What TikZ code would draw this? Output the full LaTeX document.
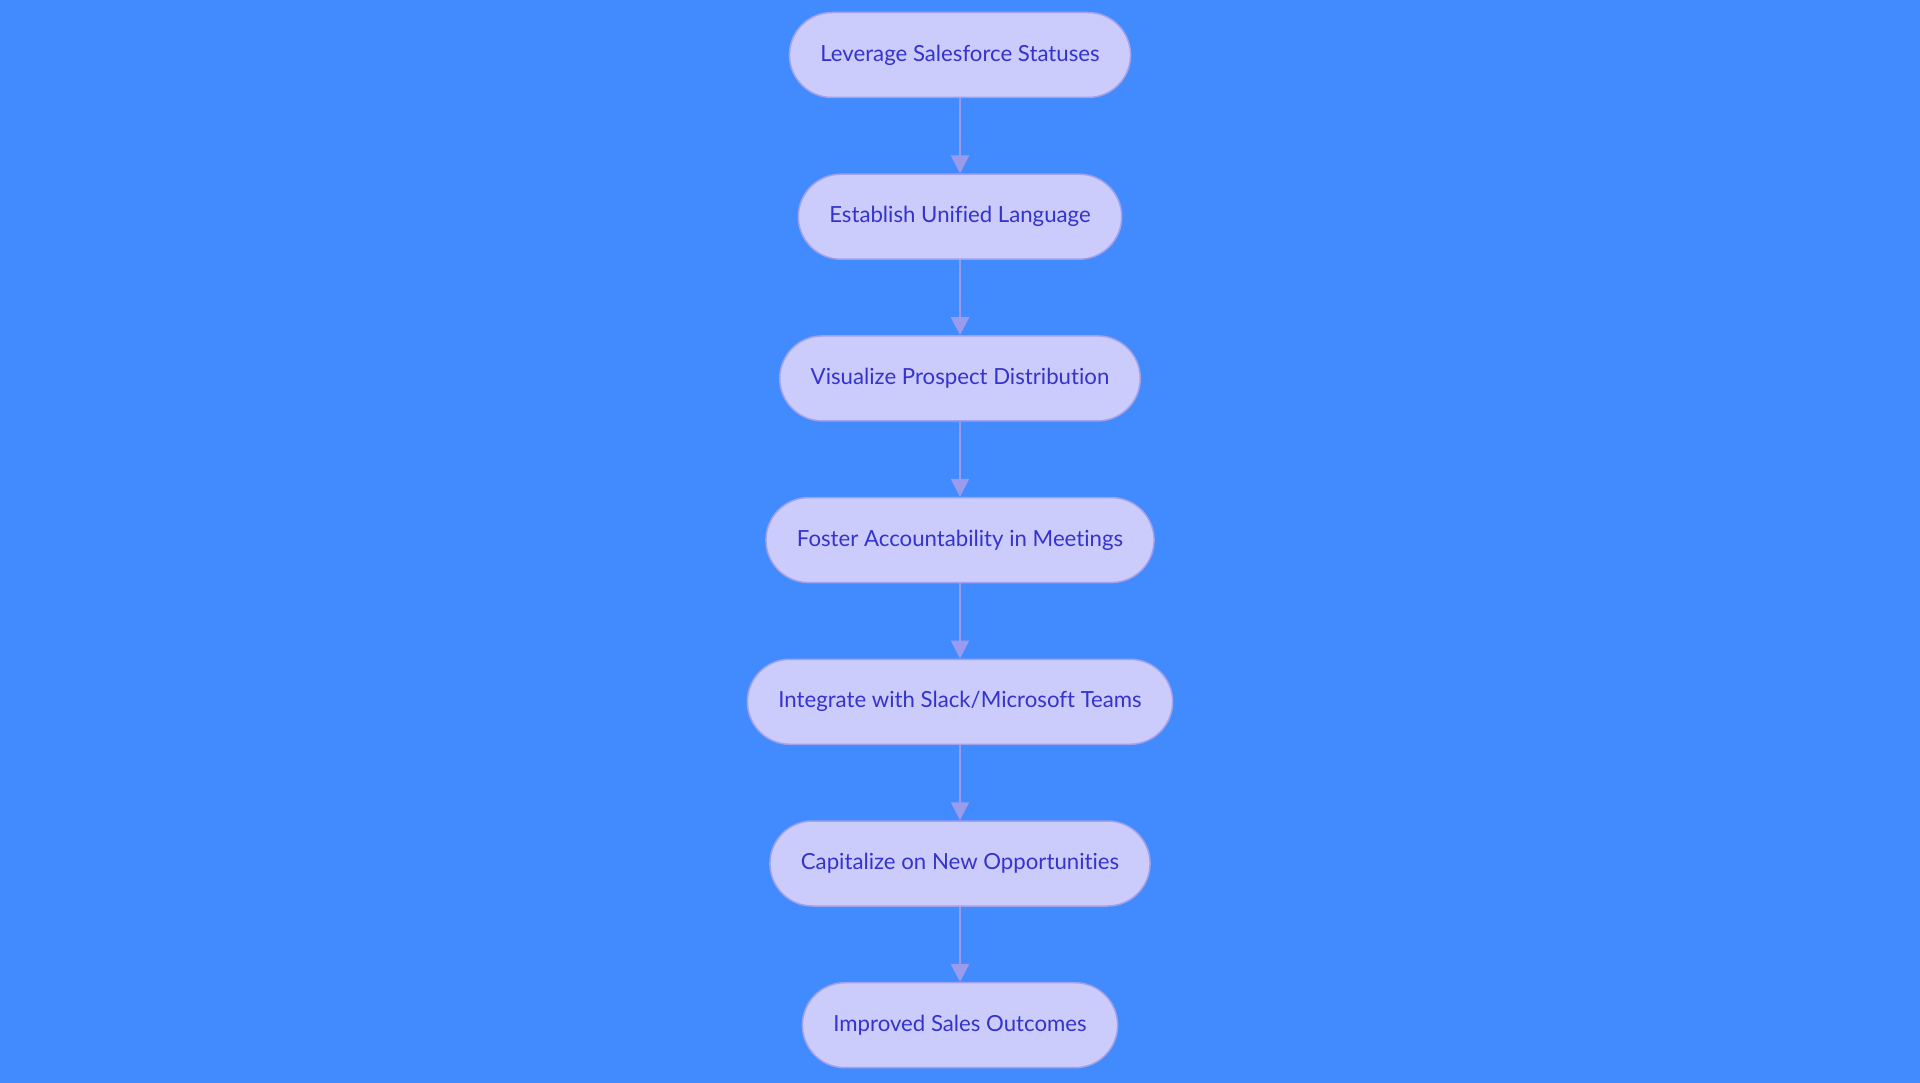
\documentclass[tikz,border=0pt]{standalone}
\usepackage{fontspec}
\setmainfont{Lato}[Ligatures=NoCommon]
\usepackage{tikz}
\usetikzlibrary{arrows.meta}
\definecolor{bgblue}{RGB}{65,139,255}
\definecolor{boxfill}{RGB}{203,203,252}
\definecolor{boxline}{RGB}{160,160,235}
\definecolor{boxtext}{RGB}{52,52,204}
\definecolor{arrowline}{RGB}{155,155,238}
\tikzset{
  stepbox/.style={draw=boxline, fill=boxfill, line width=1.5pt, text=boxtext,
    rounded corners=42.5pt, minimum height=85pt, inner xsep=31pt,
    font=\fontsize{22.2pt}{27pt}\selectfont},
  flow/.style={draw=arrowline, line width=2.4pt, -{Triangle[width=18pt,length=18pt]}}
}

\begin{document}
\begin{tikzpicture}[node distance=161.7pt]
	\fill[bgblue] (0,0) rectangle (1920pt,-1083pt);
	\useasboundingbox (0,0) rectangle (1920pt,-1083pt);
	         \node[stepbox] (leverage) at (960pt,-55pt) {Leverage Salesforce Statuses};
	         \node[stepbox] (establish) [below of=leverage]{Establish Unified Language};
	         \node[stepbox] (visualize) [below of=establish]{Visualize Prospect Distribution};
	         \node[stepbox] (foster) [below of=visualize]{Foster Accountability in Meetings};
	         \node[stepbox] (integrate) [below of=foster]{Integrate with Slack/Microsoft Teams};
	         \node[stepbox] (capitalize) [below of=integrate]{Capitalize on New Opportunities};
	         \node[stepbox] (improved) [below of=capitalize]{Improved Sales Outcomes};
	         \draw[flow] (leverage) to (establish);
	         \draw[flow] (establish) to (visualize);
	         \draw[flow] (visualize) to (foster);
	         \draw[flow] (foster) to (integrate);
	         \draw[flow] (integrate) to (capitalize);
	         \draw[flow] (capitalize) to (improved);
	     \end{tikzpicture}
\end{document}
